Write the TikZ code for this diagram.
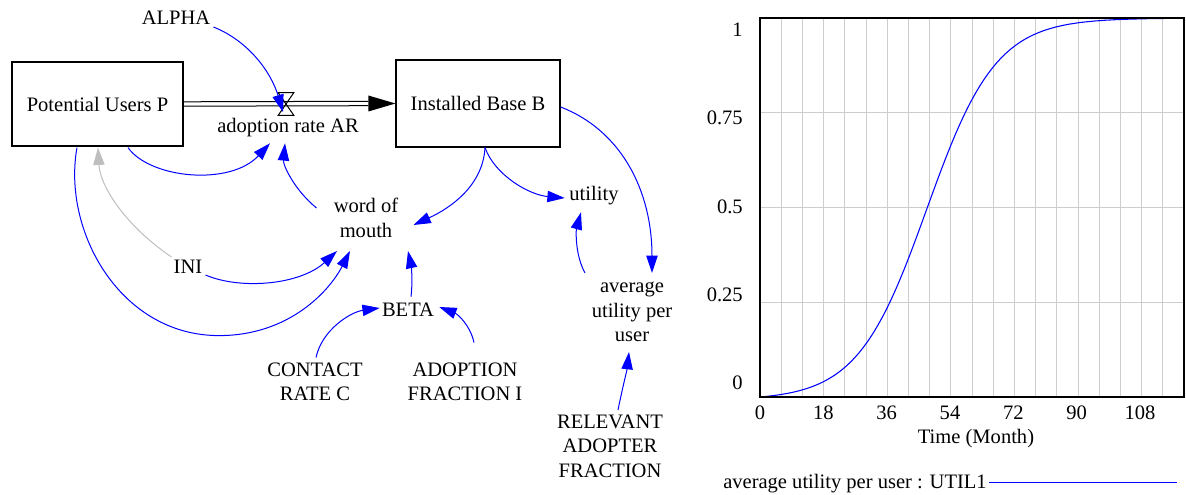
\documentclass[tikz,border=0pt]{standalone}
\usepackage{fontspec}
\setmainfont{Liberation Serif}
\usetikzlibrary{arrows.meta,calc}
\definecolor{linkblue}{RGB}{0,0,255}
\definecolor{ghost}{RGB}{190,190,190}
\definecolor{gridgray}{RGB}{205,205,205}

\begin{document}
\begin{tikzpicture}[x=0.75pt,y=-0.75pt,
  font=\fontsize{15.4pt}{18.4pt}\selectfont,
  stock/.style={draw=black,line width=0.9pt,inner sep=0pt},
  lbl/.style={inner sep=0pt,text height=10.5pt,text depth=3.5pt},
  multi/.style={inner sep=0pt,align=center},
  link/.style={draw=linkblue,line width=0.75pt,-{Triangle[length=13pt,width=8.5pt]}},
  initlink/.style={draw=ghost,line width=0.75pt,-{Triangle[length=13pt,width=8.5pt]}},
  pipe/.style={draw=black,line width=0.75pt},
  gridline/.style={draw=gridgray,line width=0.75pt},
  series/.style={draw=linkblue,line width=0.8pt},
  axislbl/.style={lbl}
]
\useasboundingbox (0,0) rectangle (1186,495);

% ---------------- stock and flow structure ----------------
\node[stock,minimum width=128.25pt,minimum height=63pt] (P) at (97.5,104) {Potential Users P};
\node[stock,minimum width=123pt,minimum height=65.25pt] (B) at (478,103.5) {Installed Base B};

\node[lbl] (alpha) at (176,20) {ALPHA};
\node[lbl] (AR) at (288,128) {adoption rate AR};
\node[multi] (wom) at (366,218) {word of\\mouth};
\node[lbl] (util) at (594,196) {utility};
\node[multi] (avg) at (632,312) {average\\utility per\\user};
\node[lbl] (ini) at (188,269) {INI};
\node[lbl] (beta) at (408,312) {BETA};
\node[multi] (contact) at (315,382) {CONTACT\\RATE C};
\node[multi] (adopt) at (465,382) {ADOPTION\\FRACTION I};
\node[multi] (rel) at (610,446) {RELEVANT\\ADOPTER\\FRACTION};

% flow pipe from P to B
\draw[pipe] ($(P.east)+(0,-2.2)$) -- ($(B.west)+(-27,-2.2)$);
\draw[pipe] ($(P.east)+(0,2.2)$) -- ($(B.west)+(-27,2.2)$);
\fill[black] ($(B.west)+(-27,-8)$) -- (B.west) -- ($(B.west)+(-27,8)$) -- cycle;

% valve on the pipe
\node[inner sep=0pt,minimum width=11.25pt,minimum height=16.5pt] (valve) at (286,104) {};
\draw[black,line width=0.75pt] (valve.north west) -- (valve.north east) -- (valve.south west) -- (valve.south east) -- cycle;

% causal links
\draw[link] ($(alpha.east)+(3,7)$) .. controls +(35,14) and +(-12,-40) .. ($(valve.center)+(-3,8)$);
\draw[link] ($(P.south)+(30.5,1)$) .. controls +(22,31) and +(-40,43) .. ($(AR.south)+(-18,5.7)$);
\draw[link] ($(wom.west)+(-17,-10)$) .. controls +(-22,-18) and +(-2,22) .. ($(AR.south)+(-3,5.7)$);
\draw[link] ($(B.south)+(7,0)$) .. controls +(-2,38) and +(37,-17) .. ($(wom.east)+(15,7)$);
\draw[link] ($(B.south)+(7,0)$) .. controls +(10,28) and +(-35,-3) .. ($(util.west)+(-4.5,2)$);
\draw[link] ($(B.east)+(0,3.5)$) .. controls +(60,23) and +(0,-83) .. ($(avg.center)+(20,-39)$);
\draw[link] ($(avg.center)+(-47,-39)$) .. controls +(-10,-18) and +(-5,18) .. ($(util.south)+(-13,6.7)$);
\draw[link] ($(rel.center)+(8,-36)$) .. controls +(4,-20) and +(-2,18) .. ($(avg.center)+(-3,40)$);
\draw[link] ($(ini.east)+(3,6)$) .. controls +(35,15) and +(-37,34) .. ($(wom.center)+(-29,33)$);
\draw[link] ($(P.south)+(-20.5,1)$) .. controls +(-15,83) and +(-99,0) .. ++(142,188)
  .. controls +(71,0) and +(-20,39) .. ($(wom.center)+(-16,33)$);
\draw[initlink] ($(ini.west)+(-2,-12)$) .. controls +(-47,-32) and +(2,38) .. ($(P.south)+(0.5,1)$);
\draw[link] ($(contact.north)+(1,-5)$) .. controls +(6,-28) and +(-29,4) .. ($(beta.west)+(-2,-4)$);
\draw[link] ($(adopt.north)+(9,-20)$) .. controls +(-4,-18) and +(18,7) .. ($(beta.east)+(5,-5)$);
\draw[link] ($(beta.north)+(3,-5.7)$) .. controls +(2,-17) and +(3,14) .. ($(wom.center)+(42,33)$);

% ---------------- graph of average utility per user ----------------
\foreach \k in {1,...,19}
  \draw[gridline] ({760+21.2*\k},18) -- ({760+21.2*\k},397);
\foreach \v in {0.25,0.5,0.75}
  \draw[gridline] (760,{397-379*\v}) -- (1184,{397-379*\v});
\draw[series] plot[domain=0:120,samples=241]
  ({760+3.5333*\x},{397-379*((1/(1+exp(-0.102*(\x-47.2))))-0.0081)/0.9919});
\draw[black,line width=1.5pt] (760,18) rectangle (1184,397);

\node[axislbl,anchor=east] (y1) at (743,32) {1};
\node[axislbl,anchor=east] (y75) at (743,120) {0.75};
\node[axislbl,anchor=east] (y50) at (743,209) {0.5};
\node[axislbl,anchor=east] (y25) at (743,297) {0.25};
\node[axislbl,anchor=east] (y0) at (743,385) {0};

\node[axislbl] (x0) at (760,415) {0};
\node[axislbl] (x18) at (823.3,415) {18};
\node[axislbl] (x36) at (886.6,415) {36};
\node[axislbl] (x54) at (950,415) {54};
\node[axislbl] (x72) at (1013.3,415) {72};
\node[axislbl] (x90) at (1076.6,415) {90};
\node[axislbl] (x108) at (1140,415) {108};
\node[axislbl] (xt) at (976,439) {Time (Month)};

\node[axislbl,anchor=west] (leg) at (723,484) {average utility per user : UTIL1};
\draw[series] ($(leg.east)+(2,-1.5)$) -- ++(188,0);
\end{tikzpicture}
\end{document}
